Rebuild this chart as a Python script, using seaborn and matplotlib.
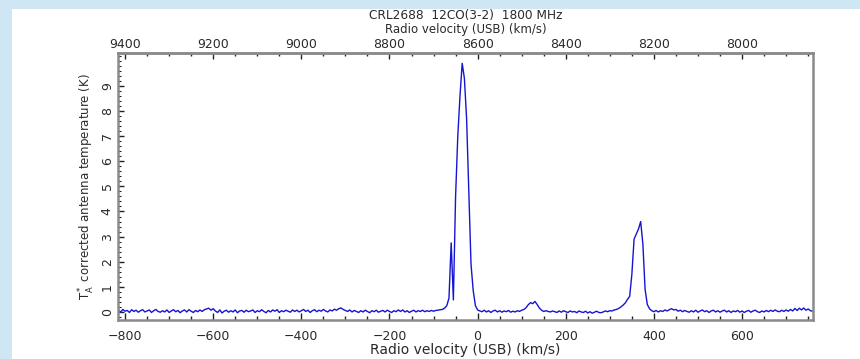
import numpy as np
import pandas as pd
import matplotlib
matplotlib.use("Agg")
import matplotlib.pyplot as plt
from matplotlib.ticker import MultipleLocator, FixedLocator
from matplotlib.patches import Rectangle
import seaborn as sns

# --- DATA: CRL2688 12CO(3-2), channels every 5 km/s from -815 to 760 ---
v_start = -815
v_step = 5
antenna_temp = [
    # -815 .. -720
    0.08, -0.01, 0.10, 0.03, 0.06, -0.02, 0.09, 0.02, 0.07, -0.01, 0.05, 0.09, 0.00, 0.04, 0.08, -0.02, 0.05, 0.10, 0.02, -0.01,
    # -715 .. -620
    0.05, 0.00, 0.08, -0.02, 0.04, 0.09, 0.01, 0.06, -0.03, 0.04, 0.08, 0.00, 0.09, 0.03, -0.02, 0.06, 0.01, 0.08, 0.02, 0.09,
    # -615 .. -520
    0.12, 0.15, 0.07, 0.13, 0.04, -0.02, 0.08, -0.04, 0.03, 0.07, -0.01, 0.05, 0.00, 0.08, -0.03, 0.04, 0.06, -0.01, 0.07, 0.01,
    # -515 .. -420
    0.04, 0.08, -0.02, 0.05, 0.01, 0.09, 0.02, -0.03, 0.06, 0.00, 0.08, 0.03, 0.09, -0.02, 0.05, 0.01, 0.07, 0.03, -0.01, 0.08,
    # -415 .. -320
    0.02, 0.07, 0.00, 0.05, 0.10, 0.02, 0.07, -0.02, 0.05, 0.09, 0.01, 0.07, 0.03, 0.10, 0.04, 0.00, 0.08, 0.04, 0.11, 0.07,
    # -315 .. -220
    0.13, 0.16, 0.10, 0.06, 0.02, 0.08, 0.00, 0.06, 0.02, -0.02, 0.05, 0.00, 0.07, 0.02, -0.03, 0.05, 0.01, 0.07, -0.01, 0.03,
    # -215 .. -120
    0.06, 0.00, 0.07, 0.02, -0.02, 0.05, 0.01, 0.08, 0.02, 0.08, 0.00, 0.05, -0.02, 0.03, 0.07, 0.00, 0.05, 0.02, 0.07, 0.01,
    # -115 .. -20  (main line, with a narrow spike and dip on its blue side)
    0.05, 0.02, 0.06, 0.03, 0.06, 0.07, 0.09, 0.10, 0.15, 0.25, 0.55, 2.75, 0.48, 4.6, 7.0, 8.6, 9.9, 9.3, 7.7, 4.8,
    # -15 .. 80
    1.9, 0.85, 0.25, 0.08, 0.04, 0.01, 0.07, 0.00, 0.05, -0.02, 0.04, 0.07, 0.00, 0.05, -0.01, 0.04, 0.01, 0.06, -0.01, 0.03,
    # 85 .. 180
    0.00, 0.05, 0.02, 0.07, 0.10, 0.17, 0.29, 0.37, 0.33, 0.42, 0.30, 0.16, 0.07, 0.02, 0.05, 0.02, 0.00, 0.04, 0.01, -0.02,
    # 185 .. 280
    0.04, -0.01, 0.05, 0.01, -0.02, 0.04, 0.00, 0.02, -0.03, 0.04, 0.00, -0.02, 0.03, -0.04, 0.01, -0.05, -0.01, 0.03, -0.02, -0.03,
    # 285 .. 380
    0.00, 0.04, 0.01, 0.05, 0.04, 0.08, 0.10, 0.14, 0.20, 0.27, 0.36, 0.50, 0.62, 1.5, 2.9, 3.1, 3.3, 3.6, 2.7, 0.9,
    # 385 .. 480
    0.30, 0.13, 0.05, 0.01, 0.06, 0.00, 0.05, 0.02, 0.08, 0.04, 0.09, 0.13, 0.08, 0.10, 0.03, 0.07, 0.01, 0.06, 0.02, -0.01,
    # 485 .. 580
    0.05, 0.00, 0.07, -0.01, 0.04, 0.08, 0.01, 0.05, -0.02, 0.04, 0.07, 0.00, 0.05, -0.01, 0.04, 0.07, 0.00, 0.05, -0.02, 0.04,
    # 585 .. 680
    0.01, 0.06, -0.01, 0.04, -0.02, 0.03, 0.06, -0.01, 0.04, 0.07, 0.01, -0.02, 0.04, 0.00, 0.06, 0.01, 0.07, 0.02, 0.08, 0.03,
    # 685 .. 760
    0.01, 0.07, 0.02, 0.08, 0.03, 0.10, 0.04, 0.14, 0.06, 0.15, 0.08, 0.16, 0.07, 0.12, 0.05, 0.03,
]
velocity = v_start + v_step * np.arange(len(antenna_temp))
v_offset = 8600  # top axis: 8600 - velocity
y_ticks = [0, 1, 2, 3, 4, 5, 6, 7, 8, 9]

df = pd.DataFrame({"v": velocity, "T": antenna_temp})

# --- PLOT ---
sns.set_style("ticks")
plt.rcParams["font.family"] = ["DejaVu Sans"]
plt.rcParams["font.size"] = 9

fig = plt.figure(figsize=(8.6, 3.59), dpi=100, facecolor="#cfe6f5")
fig.patches.append(Rectangle((12 / 860, 0), 1, 350 / 359, transform=fig.transFigure,
                             facecolor="white", edgecolor="none", zorder=-10))
ax = fig.add_axes([118 / 860, 39 / 359, 695 / 860, 267 / 359])
ax.set_facecolor("white")

sns.lineplot(data=df, x="v", y="T", ax=ax, color="#1414d2", linewidth=1.0,
             estimator=None, sort=False)

ax.set_xlim(-816, 761)
ax.set_ylim(-0.32, 10.31)

for s in ax.spines.values():
    s.set_color("#8a8a8a")
    s.set_linewidth(1.8)

ax.xaxis.set_major_locator(MultipleLocator(200))
ax.xaxis.set_minor_locator(MultipleLocator(50))
ax.yaxis.set_major_locator(FixedLocator(y_ticks))
ax.yaxis.set_minor_locator(MultipleLocator(0.2))
ax.tick_params(axis="x", which="major", direction="in", length=5, width=1, color="#222222",
               pad=7, labelsize=9, labelcolor="#2a2a2a", top=False)
ax.tick_params(axis="x", which="minor", direction="in", length=3, width=1, color="#222222", top=False)
ax.tick_params(axis="y", which="major", direction="in", length=4, width=1, color="#222222",
               pad=3, labelsize=9, labelcolor="#2a2a2a", right=False)
ax.tick_params(axis="y", which="minor", direction="in", length=2, width=0.8, color="#222222", right=False)
for lab in ax.get_yticklabels():
    lab.set_rotation(90)
    lab.set_va("center")

sec = ax.secondary_xaxis("top", functions=(lambda v: v_offset - v, lambda f: v_offset - f))
sec.xaxis.set_major_locator(MultipleLocator(200))
sec.xaxis.set_minor_locator(MultipleLocator(50))
sec.tick_params(axis="x", which="major", direction="in", length=4, width=1, color="#222222",
                pad=1.5, labelsize=9, labelcolor="#2a2a2a")
sec.tick_params(axis="x", which="minor", direction="in", length=2.5, width=1, color="#222222")
sec.spines["top"].set_color("#8a8a8a")
sec.spines["top"].set_linewidth(1.8)

ax.set_xlabel("")
ax.set_ylabel(r"$\mathregular{T_A^*}$ corrected antenna temperature (K)", fontsize=8.5, color="#2a2a2a")
ax.yaxis.set_label_coords(-0.030, 0.5)

cx = (118 + 813) / 2 / 860
fig.text(cx, 1 - 16 / 359, "CRL2688  12CO(3-2)  1800 MHz", ha="center", va="center",
         fontsize=8.75, color="#2a2a2a")
fig.text(cx, 1 - 30 / 359, "Radio velocity (USB) (km/s)", ha="center", va="center",
         fontsize=8.5, color="#2a2a2a")
fig.text(cx, 1 - 350 / 359, "Radio velocity (USB) (km/s)", ha="center", va="center",
         fontsize=10, color="#2a2a2a")

fig.savefig("out.png", dpi=100, facecolor=fig.get_facecolor())
